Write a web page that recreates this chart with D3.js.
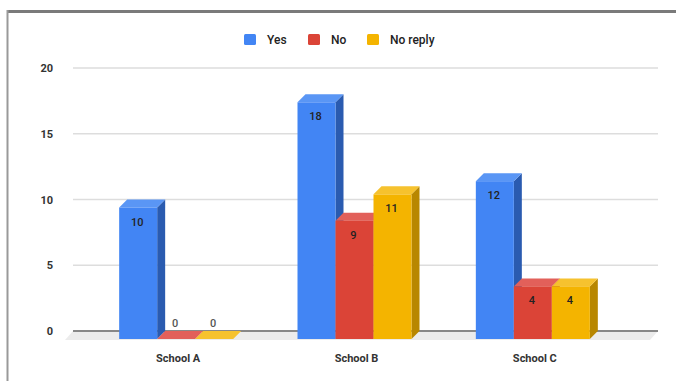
<!DOCTYPE html>
<html lang="en">
<head>
  <meta charset="UTF-8">
  <title>School survey</title>
  <style>
    body { margin: 0; background: #fff; }
    svg { display: block; font-family: Roboto, "Open Sans", sans-serif; }
    .tick-label { font-size: 11px; font-weight: 700; fill: #333; }
    .cat-label { font-size: 11px; font-weight: 700; fill: #333; }
    .legend-text { font-size: 12px; font-weight: 500; fill: #222; }
    .val { font-size: 11px; font-weight: 500; }
  </style>
</head>
<body>
  <script src="https://d3js.org/d3.v7.min.js"></script>
  <svg id="chart" width="676" height="381"></svg>
  <script>
    let schools = ['School A', 'School B', 'School C']
    let seriesNames = ['Yes', 'No', 'No reply']
    let yesVals = [10, 18, 12]
    let noVals = [0, 9, 4]
    let noReplyVals = [0, 11, 4]
    let yTicks = [0, 5, 10, 15, 20]

    let frontCol = ['#4285f4', '#db4437', '#f4b400']
    let sideCol = ['#2a5bb0', '#a8332a', '#b88700']
    let topCol = ['#5a96f5', '#e2605a', '#f6c22e']

    let dx = 8, dy = 8   // 3d depth
    let svg = d3.select('#chart')

    // frame
    svg.append('line').attr('x1', 7).attr('x2', 676).attr('y1', 11.5).attr('y2', 11.5)
      .attr('stroke', '#7a7a7a').attr('stroke-width', 3)
    svg.append('line').attr('x1', 7.5).attr('x2', 7.5).attr('y1', 10).attr('y2', 381)
      .attr('stroke', '#999').attr('stroke-width', 2)

    let y = d3.scaleLinear().domain([0, 20]).range([331, 68])
    let x0 = d3.scaleBand().domain(schools).range([87, 622])
    let x1 = d3.scaleBand().domain(seriesNames).range([0, 114])

    // floor
    svg.append('path')
      .attr('d', `M73 ${y(0)} L658 ${y(0)} L${658 - dx} ${y(0) + dy + 1} L${73 - dx} ${y(0) + dy + 1} Z`)
      .attr('fill', '#ececec')

    // grid
    svg.selectAll('.grid').data(yTicks).enter().append('line')
      .attr('x1', 73).attr('x2', 658)
      .attr('y1', d => y(d)).attr('y2', d => y(d))
      .attr('stroke', d => d === 0 ? '#888' : '#ddd')
      .attr('stroke-width', d => d === 0 ? 2 : 1.5)

    svg.selectAll('.tick-label').data(yTicks).enter().append('text')
      .attr('class', 'tick-label')
      .attr('x', 53).attr('y', d => y(d) + 4)
      .attr('text-anchor', 'end')
      .text(d => d)

    let rows = []
    schools.forEach((s, i) => {
      [yesVals, noVals, noReplyVals].forEach((vals, j) => {
        rows.push({ school: s, series: seriesNames[j], idx: j, value: vals[i] })
      })
    })

    // draw in order so later bars overlap side faces of earlier ones
    let bars = svg.selectAll('.bar').data(rows).enter().append('g').attr('class', 'bar')
    let bw = x1.bandwidth()
    bars.each(function (d) {
      let g = d3.select(this)
      let xl = x0(d.school) + x0.bandwidth() / 2 - 57 + x1(d.series)
      let xr = xl + bw
      let yb = y(0) + dy
      let yt = y(d.value) + dy
      // side
      g.append('path')
        .attr('d', `M${xr} ${yt} L${xr + dx} ${yt - dy} L${xr + dx} ${yb - dy} L${xr} ${yb} Z`)
        .attr('fill', sideCol[d.idx])
      // top
      g.append('path')
        .attr('d', `M${xl} ${yt} L${xl + dx} ${yt - dy} L${xr + dx} ${yt - dy} L${xr} ${yt} Z`)
        .attr('fill', topCol[d.idx])
      // front
      g.append('rect')
        .attr('x', xl).attr('y', yt)
        .attr('width', bw).attr('height', yb - yt)
        .attr('fill', frontCol[d.idx])
      g.append('text')
        .attr('class', 'val')
        .attr('x', xl + bw / 2 - 1)
        .attr('y', d.value === 0 ? yt - 12 : yt + 18)
        .attr('text-anchor', 'middle')
        .attr('fill', d.value === 0 ? '#555' : '#222')
        .text(d.value)
    })

    svg.selectAll('.cat-label').data(schools).enter().append('text')
      .attr('class', 'cat-label')
      .attr('x', d => x0(d) + x0.bandwidth() / 2 + 2)
      .attr('y', 362)
      .attr('text-anchor', 'middle')
      .text(d => d)

    // legend
    let legendX = [244, 308, 367]
    let legend = svg.selectAll('.legend').data(seriesNames).enter().append('g')
      .attr('transform', (d, i) => `translate(${legendX[i]}, 34)`)
    legend.append('rect').attr('width', 12).attr('height', 11).attr('rx', 1.5)
      .attr('fill', (d, i) => frontCol[i])
    legend.append('text').attr('class', 'legend-text')
      .attr('x', 23).attr('y', 10).text(d => d)
  </script>
</body>
</html>
